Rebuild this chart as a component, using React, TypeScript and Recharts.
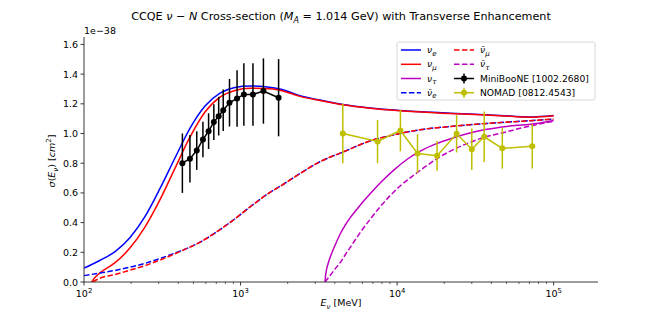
import React from 'react';
import { ComposedChart, Line, XAxis, YAxis, ErrorBar, Customized } from 'recharts';

// ---- Theory curves (x: E_nu in MeV, y: sigma in 1e-38 cm^2) ----
const nueX = [100, 126, 158, 197, 245, 306, 381, 475, 593, 739, 921, 1148, 1432, 1784, 2394, 3214, 4508, 6703, 10420, 21740, 45340, 70470, 100000];
const nueY = [0.093, 0.145, 0.205, 0.3, 0.44, 0.63, 0.835, 1.035, 1.185, 1.272, 1.31, 1.32, 1.315, 1.3, 1.255, 1.225, 1.195, 1.172, 1.155, 1.137, 1.122, 1.112, 1.122];

const numuX = [112, 117.5, 126, 158, 197, 245, 306, 381, 475, 593, 739, 921, 1148, 1432, 1784, 2394, 3214, 4508, 6703, 10420, 21740, 45340, 70470, 100000];
const numuY = [0.0, 0.03, 0.06, 0.13, 0.23, 0.37, 0.555, 0.765, 0.975, 1.145, 1.245, 1.29, 1.305, 1.303, 1.292, 1.25, 1.222, 1.193, 1.17, 1.153, 1.135, 1.12, 1.11, 1.12];

const nutauX = [3464, 3490, 3536, 3631, 3777, 4007, 4313, 4642, 4995, 5538, 6230, 7005, 8116, 9682, 11720, 13980, 17690, 22720, 29160, 37450, 52540, 78140, 100000];
const nutauY = [0.0, 0.04, 0.08, 0.126, 0.18, 0.245, 0.32, 0.38, 0.43, 0.49, 0.555, 0.615, 0.685, 0.76, 0.83, 0.88, 0.93, 0.97, 1.003, 1.028, 1.05, 1.068, 1.088];

const anueX = [100, 126, 158, 197, 245, 306, 381, 475, 551, 686, 894, 1148, 1475, 1921, 2394, 3214, 4508, 6703, 10420, 13980, 21740, 37450, 60840, 100000];
const anueY = [0.043, 0.06, 0.078, 0.1, 0.125, 0.158, 0.195, 0.235, 0.268, 0.33, 0.415, 0.505, 0.59, 0.665, 0.73, 0.81, 0.875, 0.95, 1.0, 1.025, 1.047, 1.068, 1.082, 1.097];

const anumuX = [114, 126, 158, 197, 245, 306, 381, 475, 551, 686, 894, 1148, 1475, 1921, 2394, 3214, 4508, 6703, 10420, 13980, 21740, 37450, 60840, 100000];
const anumuY = [0.0, 0.025, 0.05, 0.08, 0.11, 0.148, 0.19, 0.235, 0.268, 0.33, 0.415, 0.505, 0.59, 0.665, 0.73, 0.81, 0.875, 0.95, 1.0, 1.025, 1.047, 1.068, 1.082, 1.097];

const anutauX = [3464, 3615, 3834, 4066, 4313, 4642, 4995, 5788, 6703, 7768, 8995, 10420, 12430, 15050, 17960, 21740, 29160, 37450, 47380, 60840, 78140, 100000];
const anutauY = [0.0, 0.025, 0.06, 0.095, 0.128, 0.18, 0.23, 0.33, 0.42, 0.505, 0.58, 0.645, 0.71, 0.775, 0.83, 0.88, 0.94, 0.98, 1.005, 1.035, 1.06, 1.083];

// ---- Data points ----
const mbX = [425, 475, 525, 575, 625, 675, 725, 775, 850, 950, 1050, 1200, 1400, 1750];
const mbY = [0.8, 0.83, 0.885, 0.96, 1.016, 1.077, 1.117, 1.157, 1.207, 1.236, 1.263, 1.263, 1.286, 1.241];
const mbErr = [0.2, 0.16, 0.13, 0.12, 0.12, 0.12, 0.13, 0.14, 0.16, 0.19, 0.21, 0.21, 0.22, 0.26];

const nomadX = [4500, 7500, 10500, 13500, 18000, 24000, 30000, 36000, 47000, 73000];
const nomadY = [1.0, 0.946, 1.02, 0.865, 0.85, 0.998, 0.894, 0.978, 0.9, 0.914];
const nomadErr = [0.2, 0.146, 0.14, 0.13, 0.1, 0.125, 0.14, 0.17, 0.137, 0.15];

// ---- Axes ----
const xDomain = [100, 192000];
const yDomain = [0, 1.65];
const xMajor = [100, 1000, 10000, 100000];
const xMinor = [200, 300, 400, 500, 600, 700, 800, 900, 2000, 3000, 4000, 5000, 6000, 7000, 8000, 9000, 20000, 30000, 40000, 50000, 60000, 70000, 80000, 90000];
const xTicks = [...xMajor, ...xMinor].sort((a, b) => a - b);
const yTicks = [0, 0.2, 0.4, 0.6, 0.8, 1.0, 1.2, 1.4, 1.6];

const pts = (xs: number[], ys: number[], es?: number[]) =>
  xs.map((x, i) => (es ? { x, y: ys[i], e: es[i] } : { x, y: ys[i] }));

const FONT = 'DejaVu Sans';
const BLUE = '#0000ff';
const RED = '#ff0000';
const MAG = '#bf00bf';
const YEL = '#bfbf00';
const DASH = '5.5 2.4';

const XTick = (props: any) => {
  const { x, y, payload } = props;
  const v = payload.value;
  const major = xMajor.includes(v);
  const exp = Math.round(Math.log10(v));
  return (
    <g>
      <line x1={x} x2={x} y1={y} y2={y + (major ? 3.5 : 2)} stroke="#222" strokeWidth={major ? 0.9 : 0.7} />
      {major && (
        <text x={x} y={y + 15} textAnchor="middle" fontSize={9.5} fontFamily={FONT} fill="#000">
          10<tspan dy={-4} fontSize={6.8}>{exp}</tspan>
        </text>
      )}
    </g>
  );
};

const YTick = (props: any) => {
  const { x, y, payload } = props;
  return (
    <g>
      <line x1={x - 3.5} x2={x} y1={y} y2={y} stroke="#222" strokeWidth={0.9} />
      <text x={x - 6} y={y + 3.5} textAnchor="end" fontSize={9.5} fontFamily={FONT} fill="#000">
        {payload.value.toFixed(1)}
      </text>
    </g>
  );
};

const nu = (sub: string, bar: boolean) => (
  <>
    <tspan fontStyle="italic">{bar ? 'ν\u0304' : 'ν'}</tspan>
    <tspan dy={2.5} fontSize={7} fontStyle="italic">{sub}</tspan>
  </>
);

const Overlay = () => {
  const lx = 397, ly = 42, lw = 198, lh = 58;
  const rows = [50, 64.3, 78.5, 92.7];
  const c1 = 401, c2 = 454, hl = 20;
  const col1 = [
    { c: BLUE, d: undefined, s: 'e', b: false },
    { c: RED, d: undefined, s: 'μ', b: false },
    { c: MAG, d: undefined, s: 'τ', b: false },
    { c: BLUE, d: DASH, s: 'e', b: true },
  ];
  const col2a = [
    { c: RED, d: DASH, s: 'μ', b: true },
    { c: MAG, d: DASH, s: 'τ', b: true },
  ];
  return (
    <g fontFamily={FONT}>
      <text x={341} y={20} textAnchor="middle" fontSize={11.2} fill="#000">
        CCQE <tspan fontStyle="italic">ν</tspan> − <tspan fontStyle="italic">N</tspan> Cross-section (
        <tspan fontStyle="italic">M</tspan>
        <tspan dy={2.5} fontSize={8} fontStyle="italic">A</tspan>
        <tspan dy={-2.5}> = 1.014 GeV) with Transverse Enhancement</tspan>
      </text>
      <text x={84} y={34} textAnchor="start" fontSize={9.5} fill="#000">1e−38</text>
      <text x={341} y={306} textAnchor="middle" fontSize={9.5} fill="#000">
        <tspan fontStyle="italic">E</tspan>
        <tspan dy={2.5} fontSize={7} fontStyle="italic">ν</tspan>
        <tspan dy={-2.5}> [MeV]</tspan>
      </text>
      <text x={0} y={0} transform="translate(55,161) rotate(-90)" textAnchor="middle" fontSize={9.5} fill="#000">
        <tspan fontStyle="italic">σ</tspan>(<tspan fontStyle="italic">E</tspan>
        <tspan dy={2.5} fontSize={7} fontStyle="italic">ν</tspan>
        <tspan dy={-2.5}>) [</tspan>
        <tspan fontStyle="italic">cm</tspan>
        <tspan dy={-4} fontSize={7}>2</tspan>
        <tspan dy={4}>]</tspan>
      </text>
      <rect x={lx} y={ly} width={lw} height={lh} rx={2} fill="#fff" fillOpacity={0.8} stroke="#cccccc" strokeWidth={0.8} />
      {col1.map((it, i) => (
        <g key={'a' + i}>
          <line x1={c1} x2={c1 + hl} y1={rows[i]} y2={rows[i]} stroke={it.c} strokeWidth={1.5} strokeDasharray={it.d} />
          <text x={c1 + hl + 6} y={rows[i] + 3} fontSize={9.2} fill="#000">{nu(it.s, it.b)}</text>
        </g>
      ))}
      {col2a.map((it, i) => (
        <g key={'b' + i}>
          <line x1={c2} x2={c2 + hl} y1={rows[i]} y2={rows[i]} stroke={it.c} strokeWidth={1.5} strokeDasharray={it.d} />
          <text x={c2 + hl + 6} y={rows[i] + 3} fontSize={9.2} fill="#000">{nu(it.s, it.b)}</text>
        </g>
      ))}
      <line x1={c2} x2={c2 + hl} y1={rows[2]} y2={rows[2]} stroke="#000" strokeWidth={1.5} />
      <line x1={c2 + hl / 2} x2={c2 + hl / 2} y1={rows[2] - 5} y2={rows[2] + 5} stroke="#000" strokeWidth={1.5} />
      <circle cx={c2 + hl / 2} cy={rows[2]} r={3} fill="#000" />
      <text x={c2 + hl + 6} y={rows[2] + 3.2} fontSize={9.2} fill="#000">MiniBooNE [1002.2680]</text>
      <line x1={c2} x2={c2 + hl} y1={rows[3]} y2={rows[3]} stroke={YEL} strokeWidth={1.5} />
      <line x1={c2 + hl / 2} x2={c2 + hl / 2} y1={rows[3] - 5} y2={rows[3] + 5} stroke={YEL} strokeWidth={1.5} />
      <circle cx={c2 + hl / 2} cy={rows[3]} r={3} fill={YEL} />
      <text x={c2 + hl + 6} y={rows[3] + 3.2} fontSize={9.2} fill="#000">NOMAD [0812.4543]</text>
    </g>
  );
};

export default function App() {
  return (
    <div style={{ position: 'absolute', left: 0, top: 0, width: 665, height: 317, background: '#fff' }}>
      <ComposedChart width={665} height={317} margin={{ top: 37, right: 67, bottom: 0, left: 0 }}>
        <XAxis
          dataKey="x"
          type="number"
          scale="log"
          domain={xDomain}
          allowDataOverflow
          ticks={xTicks}
          interval={0}
          tick={<XTick />}
          tickLine={false}
          tickSize={0}
          tickMargin={0}
          height={35}
          axisLine={{ stroke: '#222', strokeWidth: 0.9 }}
        />
        <XAxis
          xAxisId="top"
          orientation="top"
          dataKey="x"
          type="number"
          scale="log"
          domain={xDomain}
          allowDataOverflow
          tick={false}
          tickLine={false}
          height={0}
          axisLine={{ stroke: '#222', strokeWidth: 0.9 }}
        />
        <YAxis
          type="number"
          domain={yDomain}
          allowDataOverflow
          ticks={yTicks}
          interval={0}
          tick={<YTick />}
          tickLine={false}
          tickSize={0}
          tickMargin={0}
          width={84}
          axisLine={{ stroke: '#222', strokeWidth: 0.9 }}
        />
        <YAxis
          yAxisId="right"
          orientation="right"
          type="number"
          domain={yDomain}
          tick={false}
          tickLine={false}
          width={0}
          axisLine={{ stroke: '#222', strokeWidth: 0.9 }}
        />
        <Line data={pts(nueX, nueY)} dataKey="y" type="monotone" stroke={BLUE} strokeWidth={1.5} dot={false} isAnimationActive={false} />
        <Line data={pts(numuX, numuY)} dataKey="y" type="monotone" stroke={RED} strokeWidth={1.5} dot={false} isAnimationActive={false} />
        <Line data={pts(nutauX, nutauY)} dataKey="y" type="monotone" stroke={MAG} strokeWidth={1.5} dot={false} isAnimationActive={false} />
        <Line data={pts(anueX, anueY)} dataKey="y" type="monotone" stroke={BLUE} strokeWidth={1.5} strokeDasharray={DASH} dot={false} isAnimationActive={false} />
        <Line data={pts(anumuX, anumuY)} dataKey="y" type="monotone" stroke={RED} strokeWidth={1.5} strokeDasharray={DASH} dot={false} isAnimationActive={false} />
        <Line data={pts(anutauX, anutauY)} dataKey="y" type="monotone" stroke={MAG} strokeWidth={1.5} strokeDasharray={DASH} dot={false} isAnimationActive={false} />
        <Line data={pts(mbX, mbY, mbErr)} dataKey="y" type="linear" stroke="#000" strokeWidth={1.5} dot={{ r: 3, fill: '#000', stroke: '#000', strokeWidth: 0 }} isAnimationActive={false}>
          <ErrorBar dataKey="e" direction="y" width={0} stroke="#000" strokeWidth={1.5} />
        </Line>
        <Line data={pts(nomadX, nomadY, nomadErr)} dataKey="y" type="linear" stroke={YEL} strokeWidth={1.5} dot={{ r: 3, fill: YEL, stroke: YEL, strokeWidth: 0 }} isAnimationActive={false}>
          <ErrorBar dataKey="e" direction="y" width={0} stroke={YEL} strokeWidth={1.5} />
        </Line>
        <Customized component={Overlay} />
      </ComposedChart>
    </div>
  );
}
